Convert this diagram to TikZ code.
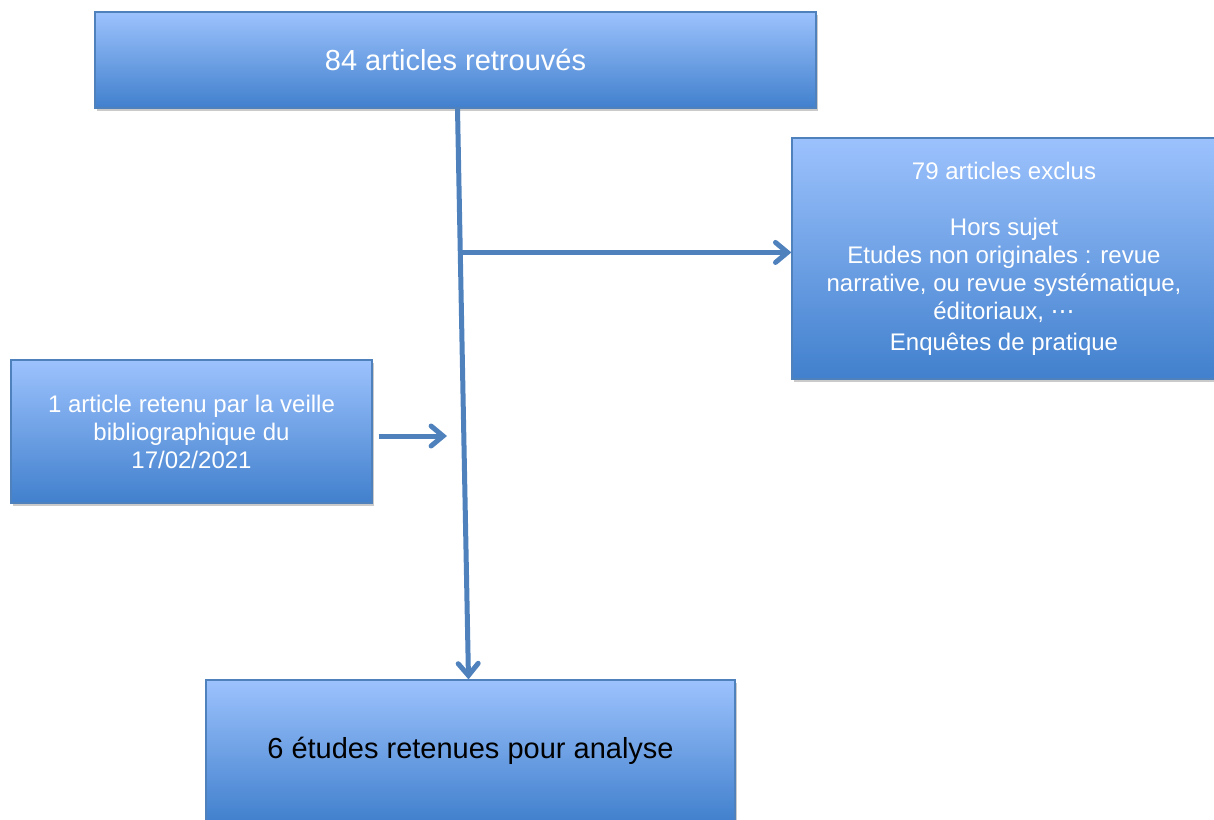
\documentclass[tikz,border=0pt]{standalone}
\usepackage{fontspec}
\setmainfont{Liberation Sans}
\newfontfamily\dejavu{DejaVu Sans}
\usetikzlibrary{arrows.meta,shadows,calc}
\definecolor{lineblue}{HTML}{4F81BD}
\definecolor{boxtop}{HTML}{9CC2FD}
\definecolor{boxbot}{HTML}{4180CD}
\begin{document}
\begin{tikzpicture}[x=1pt,y=-1pt,
  box/.style={draw=lineblue, line width=1.2pt, top color=boxtop, bottom color=boxbot,
    rectangle, inner sep=0pt, align=center, text=white,
    drop shadow={opacity=0.35, shadow xshift=2pt, shadow yshift=-3pt, fill=black!60}},
  conn/.style={draw=lineblue, line width=5pt},
  arr/.style={conn, -{Straight Barb[length=12pt,width=20pt,line cap=round]}},
  bigtxt/.style={font=\fontsize{29}{34}\selectfont},
  smalltxt/.style={font=\fontsize{24}{28}\selectfont}]
\useasboundingbox (0,0) rectangle (1214,819);
\node[box, bigtxt, minimum width=721pt, minimum height=96pt, text depth=0pt] (top) at (455.5,60) {84 articles retrouvés};
\node[box, smalltxt, minimum width=424pt, minimum height=241pt] (excl) at (1004,258.5)
  {79 articles exclus\\[28pt]Hors sujet\\Etudes non originales : revue\\narrative, ou revue systématique,\\éditoriaux, {\dejavu ⋯}\\[3pt]Enquêtes de pratique};
\node[box, smalltxt, minimum width=361pt, minimum height=143pt] (veille) at (191.5,431.5)
  {1 article retenu par la veille\\bibliographique du\\17/02/2021};
\node[box, bigtxt, text=black, minimum width=529pt, minimum height=142pt] (final) at (470.5,751) {6 études retenues pour analyse};
\coordinate (ts) at ([xshift=2pt]top.south);
\coordinate (fn) at ([xshift=-2pt]final.north);
\draw[arr] (ts) -- (fn);
\coordinate (br) at ($(ts)!0.252!(fn)$);
\draw[arr] (br) -- (excl.west |- br);
\coordinate (me) at (447,436);
\draw[arr] (veille.east |- me) ++(6pt,0) -- (me);
\end{tikzpicture}
\end{document}
